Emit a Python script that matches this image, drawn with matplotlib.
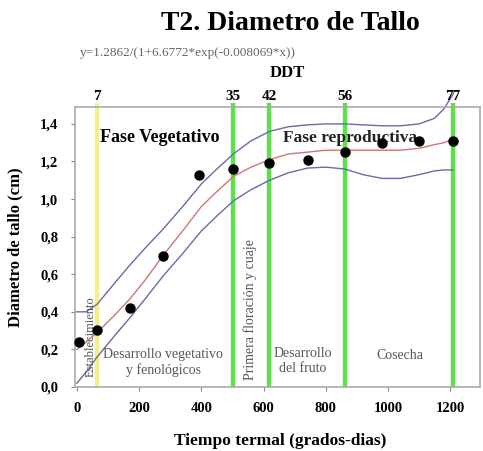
import matplotlib
matplotlib.use("Agg")
import matplotlib.pyplot as plt

plt.rcParams['font.family'] = ['Liberation Serif', 'DejaVu Serif']

# Observed data
obs_x = [6, 65, 171, 277, 394, 503, 619, 742, 861, 981, 1100, 1210]
obs_y = [0.24, 0.305, 0.42, 0.695, 1.13, 1.16, 1.19, 1.21, 1.25, 1.30, 1.31, 1.31]

# Fitted curve and bands
curve_x = [0, 30, 65, 120, 171, 220, 277, 340, 400, 450, 503, 560, 619, 680,
           742, 800, 861, 920, 981, 1040, 1100, 1150, 1180, 1210]
fit_y = [0.20, 0.24, 0.29, 0.38, 0.47, 0.57, 0.70, 0.83, 0.96, 1.04, 1.12, 1.17,
         1.21, 1.24, 1.25, 1.26, 1.26, 1.26, 1.26, 1.26, 1.27, 1.29, 1.30, 1.32]
upper_y = [0.40, 0.40, 0.44, 0.55, 0.65, 0.74, 0.84, 0.96, 1.08, 1.16, 1.24, 1.31,
           1.36, 1.385, 1.395, 1.40, 1.40, 1.395, 1.39, 1.39, 1.40, 1.43, 1.48, 1.56]
lower_y = [0.02, 0.08, 0.16, 0.27, 0.37, 0.47, 0.59, 0.71, 0.83, 0.91, 0.99, 1.05,
           1.10, 1.14, 1.165, 1.17, 1.16, 1.13, 1.11, 1.11, 1.13, 1.15, 1.155, 1.155]

# Phase markers
ddt_labels = ["7", "35", "42", "56", "77"]
ddt_x = [65, 503, 619, 861, 1210]

xticks = [0, 200, 400, 600, 800, 1000, 1200]
yticks = [0.0, 0.2, 0.4, 0.6, 0.8, 1.0, 1.2, 1.4]
ytick_labels = ["0,0", "0,2", "0,4", "0,6", "0,8", "1,0", "1,2", "1,4"]

W, H = 483, 451
fig = plt.figure(figsize=(W / 100, H / 100), dpi=100)
ax = fig.add_axes([75 / W, 1 - 387 / H, (480 - 75) / W, (387 - 107) / H])
ax.set_xlim(-6, 1296)
ax.set_ylim(0, 1.49)

# vertical phase lines
for i, (lab, xv) in enumerate(zip(ddt_labels, ddt_x)):
    color = '#f2f08a' if i == 0 else '#5ee04a'
    ax.plot([xv, xv], [0, 1.51], color=color, lw=3.2, clip_on=False, zorder=1,
            solid_capstyle='butt')
    ax.text(xv, 1.545, lab, ha='center', va='center', fontsize=11,
            fontweight='bold', clip_on=False)

ax.plot(curve_x, upper_y, color='#6a6aa6', lw=1.0, clip_on=False, zorder=2)
ax.plot(curve_x, lower_y, color='#6a6aa6', lw=1.0, zorder=2)
ax.plot(curve_x, fit_y, color='#cc7777', lw=1.0, zorder=2)
ax.plot(obs_x, obs_y, 'o', color='black', ms=6.5, zorder=4, clip_on=False)

# phase annotations
ax.text(74, 1.33, "Fase Vegetativo", ha='left', va='center', fontsize=13,
        fontweight='bold', zorder=3)
ax.text(662, 1.325, "Fase reproductiva", ha='left', va='center', fontsize=12.5,
        fontweight='bold', color='#222222', zorder=3)
ax.text(45, 0.27, "Establecimiento", rotation=90, ha='center', va='center',
        fontsize=9, color='#555555')
ax.text(277, 0.13, "Desarrollo vegetativo\ny fenológicos", ha='center',
        va='center', fontsize=10, color='#555555', linespacing=1.2)
ax.text(556, 0.41, "Primera floración y cuaje", rotation=90, ha='center',
        va='center', fontsize=10, color='#555555')
ax.text(727, 0.14, "Desarrollo\ndel fruto", ha='center', va='center',
        fontsize=10, color='#555555', linespacing=1.2)
ax.text(1039, 0.165, "Cosecha", ha='center', va='center', fontsize=10,
        color='#555555')

ax.set_xticks(xticks)
ax.set_yticks(yticks)
ax.set_yticklabels(ytick_labels)
for lab in ax.get_xticklabels() + ax.get_yticklabels():
    lab.set_fontweight('bold')
    lab.set_fontsize(10.5)
ax.tick_params(axis='x', length=3, pad=8, color='#888888')
ax.tick_params(axis='y', length=3, pad=9, color='#888888')
for s in ax.spines.values():
    s.set_color('#aaaaaa')
    s.set_linewidth(1.2)

fig.text(290 / W, 1 - 23 / H, "T2. Diametro de Tallo", ha='center', va='center',
         fontsize=20, fontweight='bold')
fig.text(80 / W, 1 - 53 / H, "y=1.2862/(1+6.6772*exp(-0.008069*x))", ha='left',
         va='center', fontsize=9.5, color='#666666')
fig.text(287 / W, 1 - 73 / H, "DDT", ha='center', va='center', fontsize=12,
         fontweight='bold')
fig.text(280 / W, 1 - 441 / H, "Tiempo termal (grados-dias)", ha='center',
         va='center', fontsize=12.5, fontweight='bold')
fig.text(15 / W, 1 - 247 / H, "Diametro de tallo (cm)", ha='center',
         va='center', fontsize=12, fontweight='bold', rotation=90)

fig.savefig("out.png", dpi=100)
